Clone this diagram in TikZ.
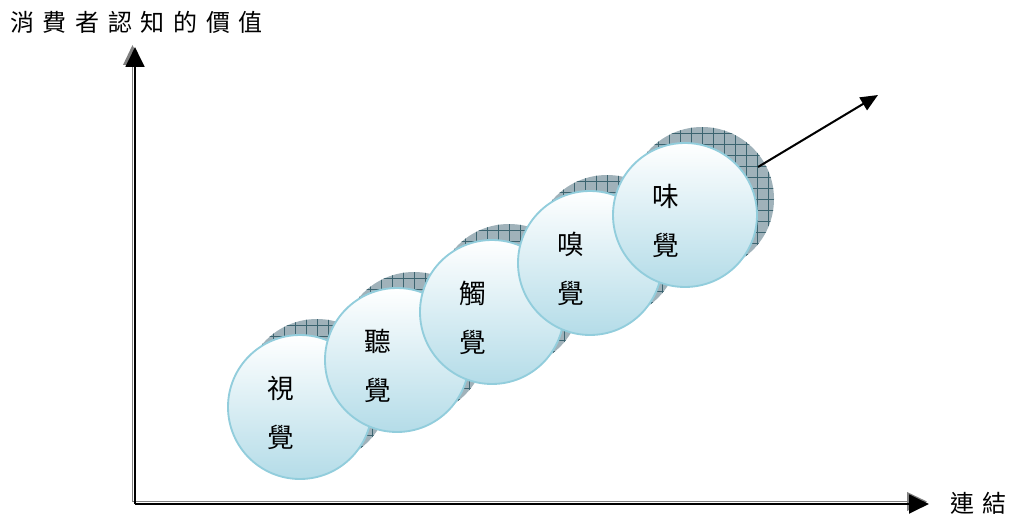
\documentclass[tikz,border=0pt]{standalone}
\usepackage{fontspec}
\setmainfont{Noto Sans CJK TC}
\newfontfamily\cjk{Noto Sans CJK TC}
\usetikzlibrary{arrows.meta}
\definecolor{rim}{RGB}{146,205,220}
\definecolor{bubblebot}{RGB}{180,220,232}
\definecolor{shadefill}{RGB}{160,178,186}
\definecolor{gridc}{RGB}{60,100,112}
\tikzset{
  bubble/.style={circle, minimum size=108pt, inner sep=0pt, draw=rim, line width=1.4pt,
    top color=white, bottom color=bubblebot, shading angle=0},
  shadowc/.style={circle, minimum size=108pt, inner sep=0pt, fill=shadefill,
    path picture={\draw[gridc, line width=0.4pt] ([shift={(-4pt,-4pt)}]path picture bounding box.south west) grid[step=8.25pt] (path picture bounding box.north east);}},
  lbl/.style={align=center, font=\cjk\fontsize{20}{37}\selectfont, inner sep=0pt},
  axisblk/.style={line width=2.2pt, black, -{Triangle[length=15pt,width=14pt]}},
  axisgry/.style={line width=1.2pt, gray, -{Triangle[length=15pt,width=14pt]}},
  ttl/.style={font=\cjk\fontsize{18}{20}\selectfont\addfontfeatures{LetterSpace=36}, inner sep=0pt, anchor=west},
}
\begin{document}
\begin{tikzpicture}[x=0.75pt,y=-0.75pt]
\useasboundingbox (0,0) rectangle (1016,517);
% axes
\coordinate (O) at (135,504);
\coordinate (Ytip) at (135,47);
\coordinate (Xtip) at (929,504);
\coordinate (Og) at (132.5,501.5);
\coordinate (Ytipg) at (132.5,45);
\coordinate (Xtipg) at (927,501.5);
\draw[axisgry] (Og) -- (Ytipg);
\draw[axisgry] (Og) -- (Xtipg);
\draw[axisblk] (O) -- (Ytip);
\draw[axisblk] (O) -- (Xtip);
\node[ttl] (ytitle) at (10,22) {消費者認知的價值};
\node[ttl] (xtitle) at (950,503) {連結};
% bubbles
\node[shadowc] (s1) at (317,391) {};
\node[bubble] (c1) at (300,407) {};
\node[lbl] (t1) at (281,413) {視\\覺};
\node[shadowc] (s2) at (414,344) {};
\node[bubble] (c2) at (397,360) {};
\node[lbl] (t2) at (378,366) {聽\\覺};
\node[shadowc] (s3) at (509,296) {};
\node[bubble] (c3) at (492,312) {};
\node[lbl] (t3) at (473,318) {觸\\覺};
\node[shadowc] (s4) at (607,247) {};
\node[bubble] (c4) at (590,263) {};
\node[lbl] (t4) at (571,269) {嗅\\覺};
\node[shadowc] (s5) at (702,199) {};
\node[bubble] (c5) at (685,215) {};
\node[lbl] (t5) at (666,221) {味\\覺};
% trend arrow
\coordinate (a0) at (758,167);
\coordinate (a1) at (878,95);
\draw[line width=1.5pt, -{Triangle[length=13pt,width=11pt]}] (a0) -- (a1);
\end{tikzpicture}
\end{document}
